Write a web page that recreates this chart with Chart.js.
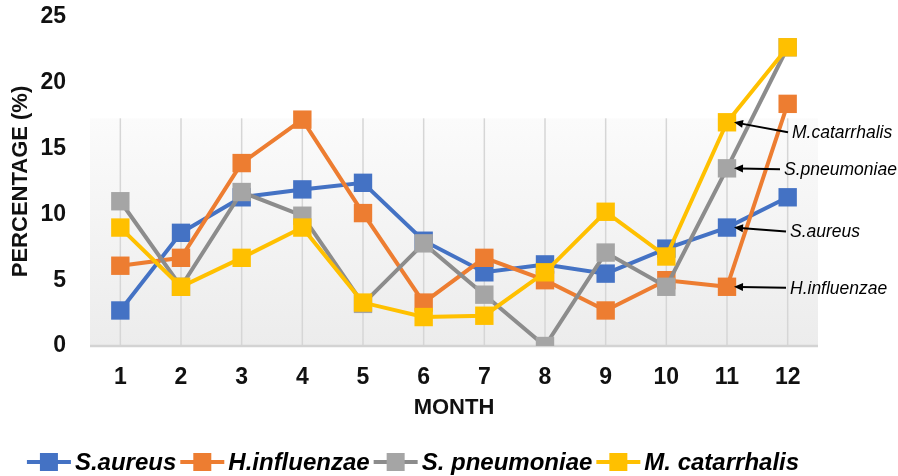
<!DOCTYPE html>
<html>
<head>
<meta charset="utf-8">
<script src="https://cdn.jsdelivr.net/npm/chart.js@4.4.1/dist/chart.umd.min.js"></script>
<style>
  html, body { margin: 0; padding: 0; background: #fff; }
  #wrap { width: 898px; height: 476px; }
</style>
</head>
<body>
<div id="wrap"><canvas id="chart" width="898" height="476"></canvas></div>
<script>
// data
const months = ["1", "2", "3", "4", "5", "6", "7", "8", "9", "10", "11", "12"];
const sAureus      = [2.7, 8.6, 11.3, 11.9, 12.4, 8.0, 5.6, 6.2, 5.5, 7.4, 9.0, 11.3];
const hInfluenzae  = [6.1, 6.7, 13.9, 17.2, 10.1, 3.3, 6.7, 5.0, 2.7, 5.0, 4.5, 18.4];
const sPneumoniae  = [11.0, 4.5, 11.7, 9.9, 3.2, 7.8, 3.9, 0.0, 7.1, 4.5, 13.5, 22.7];
const mCatarrhalis = [9.0, 4.5, 6.7, 9.0, 3.3, 2.2, 2.3, 5.6, 10.2, 6.8, 17.0, 22.7];
const yMin = 0, yMax = 25, yStep = 5;
const legendNames = ["S.aureus", "H.influenzae", "S. pneumoniae", "M. catarrhalis"];

const FONT = "'Liberation Sans', Arial, sans-serif";
const colors = {
    blue: "#4472C4",
    orange: "#ED7D31",
    grayLine: "#8C8C8C",
    grayPoint: "#A5A5A5",
    yellow: "#FFC000"
};

// callouts pointing at month 11
const callouts = [
    { text: "M.catarrhalis", values: mCatarrhalis, idx: 10, dx: 65, dy: 11 },
    { text: "S.pneumoniae", values: sPneumoniae, idx: 10, dx: 57, dy: 2 },
    { text: "S.aureus", values: sAureus, idx: 10, dx: 63, dy: 5 },
    { text: "H.influenzae", values: hInfluenzae, idx: 10, dx: 63, dy: 2 }
];

function makeSeries(label, values, line, point, order) {
    return {
        label: label,
        data: values,
        borderColor: line,
        backgroundColor: point,
        borderWidth: 4,
        tension: 0,
        pointStyle: "rect",
        pointRadius: 13,
        pointHoverRadius: 13,
        pointBackgroundColor: point,
        pointBorderWidth: 0,
        order: order
    };
}

// shaded plot panel + vertical grid lines
const panelPlugin = {
    id: "panel",
    beforeDatasetsDraw(chart) {
        const { ctx, chartArea, scales } = chart;
        const top = scales.y.getPixelForValue(17.3);
        const bottom = chartArea.bottom;
        const g = ctx.createLinearGradient(0, top, 0, bottom);
        g.addColorStop(0, "#fbfbfb");
        g.addColorStop(1, "#ececec");
        ctx.save();
        ctx.fillStyle = g;
        ctx.fillRect(chartArea.left, top, chartArea.right - chartArea.left, bottom - top);
        ctx.strokeStyle = "#d6d6d6";
        ctx.lineWidth = 1.5;
        months.forEach((m, i) => {
            const x = scales.x.getPixelForValue(i);
            ctx.beginPath();
            ctx.moveTo(x, top);
            ctx.lineTo(x, bottom);
            ctx.stroke();
        });
        ctx.strokeStyle = "#d3d3d3";
        ctx.lineWidth = 2.5;
        ctx.beginPath();
        ctx.moveTo(chartArea.left, bottom);
        ctx.lineTo(chartArea.right, bottom);
        ctx.stroke();
        ctx.restore();
    }
};

// arrows with species names near month 11, and the bottom legend
const notesPlugin = {
    id: "notes",
    afterDraw(chart) {
        const { ctx, scales } = chart;
        ctx.save();
        ctx.font = "italic 17.5px " + FONT;
        ctx.textBaseline = "middle";
        ctx.textAlign = "left";
        ctx.fillStyle = "#000";
        ctx.strokeStyle = "#000";
        callouts.forEach(c => {
            const px = scales.x.getPixelForValue(c.idx);
            const py = scales.y.getPixelForValue(c.values[c.idx]);
            const tx = px + c.dx;
            const ty = py + c.dy;
            ctx.fillText(c.text, tx, ty);
            const x0 = tx - 4, y0 = ty - 1;
            const x1 = px + 7, y1 = py;
            const ang = Math.atan2(y1 - y0, x1 - x0);
            ctx.lineWidth = 2;
            ctx.beginPath();
            ctx.moveTo(x0, y0);
            ctx.lineTo(x1 - 6 * Math.cos(ang), y1 - 6 * Math.sin(ang));
            ctx.stroke();
            ctx.beginPath();
            ctx.moveTo(x1, y1);
            ctx.lineTo(x1 - 9 * Math.cos(ang) + 4 * Math.sin(ang), y1 - 9 * Math.sin(ang) - 4 * Math.cos(ang));
            ctx.lineTo(x1 - 9 * Math.cos(ang) - 4 * Math.sin(ang), y1 - 9 * Math.sin(ang) + 4 * Math.cos(ang));
            ctx.closePath();
            ctx.fill();
        });

        // legend
        const ds = chart.data.datasets;
        const legendY = 462;
        const markW = 44;
        ctx.font = "bold italic 24px " + FONT;
        let total = 0;
        const widths = legendNames.map(n => ctx.measureText(n).width);
        widths.forEach(w => { total += markW + 4 + w + 4; });
        let x = 415 - total / 2;
        legendNames.forEach((name, i) => {
            const d = ds[i];
            ctx.strokeStyle = d.borderColor;
            ctx.lineWidth = 4;
            ctx.beginPath();
            ctx.moveTo(x, legendY);
            ctx.lineTo(x + markW, legendY);
            ctx.stroke();
            ctx.fillStyle = d.pointBackgroundColor;
            ctx.fillRect(x + markW / 2 - 9, legendY - 9, 18, 18);
            x += markW + 4;
            ctx.fillStyle = "#000";
            ctx.fillText(name, x, legendY + 1);
            x += widths[i] + 4;
        });
        ctx.restore();
    }
};

const ctx = document.getElementById("chart").getContext("2d");
const chart = new Chart(ctx, {
    type: "line",
    data: {
        labels: months,
        datasets: [
            makeSeries("S.aureus", sAureus, colors.blue, colors.blue, 3),
            makeSeries("H.influenzae", hInfluenzae, colors.orange, colors.orange, 2),
            makeSeries("S. pneumoniae", sPneumoniae, colors.grayLine, colors.grayPoint, 1),
            makeSeries("M. catarrhalis", mCatarrhalis, colors.yellow, colors.yellow, 0)
        ]
    },
    options: {
        responsive: false,
        animation: false,
        layout: { padding: { left: 0, right: 80, top: 17, bottom: 0 } },
        plugins: {
            legend: { display: false },
            tooltip: { enabled: false }
        },
        scales: {
            x: {
                offset: true,
                grid: { display: false },
                border: { display: false },
                ticks: {
                    color: "#111",
                    padding: 10,
                    font: { family: FONT, size: 23, weight: "bold" }
                },
                title: {
                    display: true,
                    text: "MONTH",
                    color: "#111",
                    padding: { top: 55, bottom: 55 },
                    font: { family: FONT, size: 22, weight: "bold" }
                },
                afterFit: s => { s.height = 130; s.paddingLeft = 0; s.paddingRight = 0; }
            },
            y: {
                min: yMin,
                max: yMax,
                grid: { display: false },
                border: { display: false },
                ticks: {
                    stepSize: yStep,
                    color: "#111",
                    padding: 16,
                    font: { family: FONT, size: 23, weight: "bold" }
                },
                title: {
                    display: true,
                    text: "PERCENTAGE (%)",
                    color: "#111",
                    padding: { top: 8, bottom: 8 },
                    font: { family: FONT, size: 22, weight: "bold" }
                },
                afterFit: s => { s.width = 90; s.paddingTop = 0; s.paddingBottom = 0; }
            }
        }
    },
    plugins: [panelPlugin, notesPlugin]
});
</script>
</body>
</html>
